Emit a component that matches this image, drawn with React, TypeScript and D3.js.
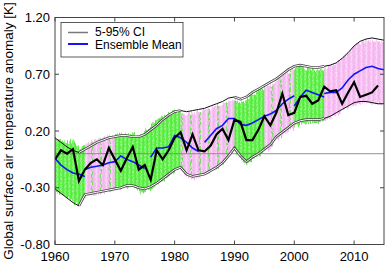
import React from 'react';
import * as d3 from 'd3';

const START_YEAR = 1960;

// Observed global mean temperature anomaly, 1960..2014
const observed = [
  -0.05, 0.03, 0.0, 0.04, -0.24, -0.14, -0.08, -0.05, -0.10, 0.05,
  -0.05, -0.15, -0.04, 0.06, -0.14, -0.10, -0.23, 0.03, -0.05, 0.03,
  0.14, 0.19, 0.03, 0.17, 0.03, 0.02, 0.07, 0.17, 0.22, 0.12,
  0.30, 0.28, 0.12, 0.12, 0.21, 0.33, 0.25, 0.36, 0.53, 0.34,
  0.36, 0.50, 0.51, 0.44, 0.47, 0.59, 0.55, 0.56, 0.44, 0.54,
  0.63, 0.50, 0.52, 0.54, 0.60,
];

// 5-95% confidence interval bounds, 1960..2015
const ciUpper = [
  0.14, 0.10, 0.06, 0.03, 0.01, 0.04, 0.07, 0.10, 0.12, 0.14,
  0.15, 0.16, 0.16, 0.15, 0.15, 0.17, 0.21, 0.25, 0.30, 0.34,
  0.37, 0.38, 0.37, 0.38, 0.39, 0.40, 0.42, 0.44, 0.46, 0.49,
  0.50, 0.48, 0.50, 0.54, 0.57, 0.60, 0.63, 0.66, 0.70, 0.74,
  0.77, 0.78, 0.77, 0.76, 0.76, 0.77, 0.78, 0.80, 0.84, 0.89,
  0.95, 0.99, 1.01, 1.02, 1.01, 1.00,
];
const ciLower = [
  -0.31, -0.35, -0.39, -0.43, -0.46, -0.36, -0.35, -0.34, -0.33, -0.32,
  -0.31, -0.30, -0.28, -0.28, -0.30, -0.31, -0.29, -0.26, -0.22, -0.18,
  -0.14, -0.12, -0.18, -0.20, -0.19, -0.18, -0.15, -0.12, -0.08, -0.02,
  0.05, -0.02, -0.07, -0.03, 0.0, 0.04, 0.08, 0.15, 0.19, 0.23,
  0.27, 0.29, 0.30, 0.30, 0.30, 0.31, 0.33, 0.36, 0.39, 0.42,
  0.45, 0.46, 0.46, 0.45, 0.44, 0.44,
];

// Envelope of the ensemble members, 1960..2015
const memberTop = [
  0.14, 0.12, 0.10, 0.12, 0.05, 0.08, 0.10, 0.13, 0.14, 0.16,
  0.17, 0.19, 0.16, 0.17, 0.15, 0.20, 0.24, 0.30, 0.33, 0.34,
  0.38, 0.36, 0.34, 0.36, 0.37, 0.39, 0.40, 0.43, 0.44, 0.46,
  0.47, 0.45, 0.47, 0.52, 0.55, 0.58, 0.60, 0.64, 0.70, 0.72,
  0.76, 0.77, 0.75, 0.74, 0.73, 0.75, 0.77, 0.80, 0.84, 0.90,
  0.95, 0.98, 1.00, 1.00, 0.99, 0.98,
];
const memberBot = [
  -0.33, -0.36, -0.38, -0.42, -0.45, -0.38, -0.36, -0.36, -0.34, -0.33,
  -0.32, -0.30, -0.29, -0.30, -0.33, -0.33, -0.31, -0.27, -0.24, -0.20,
  -0.16, -0.13, -0.20, -0.22, -0.21, -0.19, -0.16, -0.13, -0.09, -0.03,
  0.03, -0.04, -0.09, -0.05, -0.02, 0.02, 0.06, 0.12, 0.16, 0.20,
  0.23, 0.26, 0.27, 0.27, 0.27, 0.29, 0.31, 0.34, 0.37, 0.40,
  0.43, 0.45, 0.45, 0.45, 0.44, 0.44,
];

// Ensemble mean, one array per hindcast segment
const meanSeg1960 = [-0.04, -0.10, -0.14, -0.17, -0.18, -0.20];
const meanSeg1965 = [-0.14, -0.12, -0.11, -0.10, -0.08, -0.07, -0.02, -0.05, -0.07, -0.10, -0.13];
const meanSeg1976 = [-0.03, 0.05, 0.05, 0.06, 0.16, 0.14, 0.10, 0.05, 0.02];
const meanSeg1985 = [0.10, 0.16, 0.22, 0.25, 0.31, 0.31, 0.26, 0.25, 0.27, 0.30, 0.33, 0.35, 0.38, 0.44, 0.48, 0.51];
const meanSeg2000 = [0.42, 0.50, 0.56, 0.54, 0.52, 0.50];
const meanSeg2005 = [0.53, 0.54, 0.54, 0.58, 0.65, 0.70, 0.73, 0.76, 0.77, 0.75, 0.74];
const meanStarts = [1960, 1965, 1976, 1985, 2000, 2005];

// Year spans of the two ensemble colours
const pinkSpans = [[1965, 2015]];
const greenDenseSpans = [[1960, 1965], [1970, 1981], [1990, 1995], [2000, 2005]];
const greenSparseSpans = [[1965, 1970], [1981, 1990], [1995, 2000]];

const xTicks = [1960, 1970, 1980, 1990, 2000, 2010];
const yTicks = [-0.8, -0.3, 0.2, 0.7, 1.2];

const W = 388;
const H = 265;
const L = 55, R = 384, T = 17.5, B = 244.5;

export default function App() {
  const x = d3.scaleLinear().domain([1960, 2015]).range([L, R]);
  const y = d3.scaleLinear().domain([-0.8, 1.2]).range([B, T]);

  const line = d3.line<[number, number]>().x(d => x(d[0])).y(d => y(d[1]));
  const area = d3
    .area<{ yr: number; hi: number; lo: number }>()
    .x(d => x(d.yr))
    .y0(d => y(d.lo))
    .y1(d => y(d.hi));

  const span = (s: number, e: number) => {
    const pts: { yr: number; hi: number; lo: number }[] = [];
    for (let yr = s; yr <= e; yr++) {
      const i = yr - START_YEAR;
      pts.push({ yr, hi: memberTop[i], lo: memberBot[i] });
    }
    return pts;
  };
  const sub = (arr: number[], s: number, e: number) => {
    const pts: [number, number][] = [];
    for (let yr = s; yr <= e; yr++) pts.push([yr, arr[yr - START_YEAR]]);
    return pts;
  };

  const obsPts: [number, number][] = observed.map((v, i) => [START_YEAR + i, v]);
  const meanSegs = [meanSeg1960, meanSeg1965, meanSeg1976, meanSeg1985, meanSeg2000, meanSeg2005];

  const upperSingle = [[1960, 1964], [1981, 1990], [2005, 2015]];
  const upperDouble = [[1964, 1981], [1990, 2005]];
  const lowerSingle = [[1960, 1964], [2005, 2015]];
  const lowerDouble = [[1964, 2005]];

  const font = "'Liberation Sans', Arial, Helvetica, sans-serif";

  const doubleLine = (d: string, key: string) => (
    <g key={key}>
      <path d={d} fill="none" stroke="#4a4a4a" strokeWidth={2.6} />
      <path d={d} fill="none" stroke="#ffffff" strokeWidth={1.0} />
    </g>
  );

  return (
    <svg width={W} height={H} style={{ position: 'absolute', left: 0, top: 0 }} fontFamily={font}>
      <defs>
        <clipPath id="plotClip">
          <rect x={L} y={T} width={R - L} height={B - T} />
        </clipPath>
        <pattern id="pinkTex" patternUnits="userSpaceOnUse" width="5" height="9">
          <rect width="5" height="9" fill="#f6bff1" />
          <path d="M0.6,0 L2,3 L0.8,6 L2.1,9" stroke="#fde4fb" strokeWidth="0.8" fill="none" />
          <path d="M3.2,0 L4.3,4 L3.3,9" stroke="#f0a4ea" strokeWidth="0.5" fill="none" />
        </pattern>
        <pattern id="greenTex" patternUnits="userSpaceOnUse" width="4" height="8">
          <rect width="4" height="8" fill="#62ef4c" />
          <path d="M0.5,0 L1.8,3 L0.6,5 L1.7,8" stroke="#b4f8a8" strokeWidth="0.7" fill="none" />
          <path d="M2.8,0 L3.7,4 L2.9,8" stroke="#44e02e" strokeWidth="0.5" fill="none" />
        </pattern>
        <pattern id="greenStrands" patternUnits="userSpaceOnUse" width="9" height="12">
          <path d="M1,0 L2.8,4 L1.2,8 L2.6,12" stroke="#4ee838" strokeWidth="0.9" fill="none" />
        </pattern>
        <filter id="jag" x="0" y="0" width={W} height={H} filterUnits="userSpaceOnUse">
          <feTurbulence type="fractalNoise" baseFrequency="0.7 0.05" numOctaves="2" seed="4" result="n" />
          <feColorMatrix in="n" type="matrix" values="0 0 0 0 0.5  0 1 0 0 0  0 0 0 0 0  0 0 0 0 1" result="m" />
          <feDisplacementMap in="SourceGraphic" in2="m" scale="9" xChannelSelector="R" yChannelSelector="G" />
        </filter>
      </defs>
      <rect width={W} height={H} fill="#ffffff" />

      <g clipPath="url(#plotClip)">
        <g filter="url(#jag)">
          {pinkSpans.map(([s, e], i) => (
            <path key={'p' + i} d={area(span(s, e)) || ''} fill="url(#pinkTex)" />
          ))}
          {greenSparseSpans.map(([s, e], i) => (
            <path key={'gs' + i} d={area(span(s, e)) || ''} fill="url(#greenStrands)" />
          ))}
          {greenDenseSpans.map(([s, e], i) => (
            <path key={'gd' + i} d={area(span(s, e)) || ''} fill="url(#greenTex)" />
          ))}
        </g>
        <line x1={L} x2={R} y1={y(0)} y2={y(0)} stroke="#808080" strokeWidth={1} opacity={0.85} />

        {upperDouble.map(([s, e], i) => doubleLine(line(sub(ciUpper, s, e)) || '', 'ud' + i))}
        {lowerDouble.map(([s, e], i) => doubleLine(line(sub(ciLower, s, e)) || '', 'ld' + i))}
        {upperSingle.map(([s, e], i) => (
          <path key={'us' + i} d={line(sub(ciUpper, s, e)) || ''} fill="none" stroke="#111" strokeWidth={1} />
        ))}
        {lowerSingle.map(([s, e], i) => (
          <path key={'ls' + i} d={line(sub(ciLower, s, e)) || ''} fill="none" stroke="#111" strokeWidth={1} />
        ))}

        {meanSegs.map((seg, i) => (
          <path
            key={'m' + i}
            d={line(seg.map((v, j) => [meanStarts[i] + j, v] as [number, number])) || ''}
            fill="none"
            stroke="#1414f5"
            strokeWidth={1.6}
          />
        ))}
        <path d={line(obsPts) || ''} fill="none" stroke="#000" strokeWidth={2.2} strokeLinejoin="miter" />
      </g>

      {/* frame */}
      <rect x={L} y={T} width={R - L} height={B - T} fill="none" stroke="#444" strokeWidth={1} />
      {xTicks.map(t => (
        <g key={'xt' + t}>
          <line x1={x(t)} x2={x(t)} y1={B} y2={B - 4} stroke="#444" />
          <line x1={x(t)} x2={x(t)} y1={T} y2={T + 4} stroke="#444" />
          <text x={x(t)} y={260.5} textAnchor="middle" fontSize={13} fill="#000">
            {t}
          </text>
        </g>
      ))}
      {yTicks.map(t => (
        <g key={'yt' + t}>
          <line x1={L} x2={L + 4} y1={y(t)} y2={y(t)} stroke="#444" />
          <line x1={R} x2={R - 4} y1={y(t)} y2={y(t)} stroke="#444" />
          <text x={50} y={y(t)} dy="0.36em" textAnchor="end" fontSize={13} fill="#000">
            {t.toFixed(2)}
          </text>
        </g>
      ))}

      <text
        transform={`translate(12.5, ${(T + B) / 2}) rotate(-90)`}
        textAnchor="middle"
        fontSize={13.5}
        fill="#000"
      >
        Global surface air temperature anomaly [K]
      </text>

      {/* legend */}
      <rect x={61} y={22.5} width={122} height={34.5} fill="#fff" stroke="#333" strokeWidth={0.8} />
      <line x1={68} x2={88} y1={32.5} y2={32.5} stroke="#7a7a7a" strokeWidth={1.5} />
      <text x={95} y={36.3} fontSize={12} fill="#000">5-95% CI</text>
      <line x1={68} x2={88} y1={44} y2={44} stroke="#1414f5" strokeWidth={2} />
      <text x={95} y={49} fontSize={12} fill="#000">Ensemble Mean</text>
    </svg>
  );
}
